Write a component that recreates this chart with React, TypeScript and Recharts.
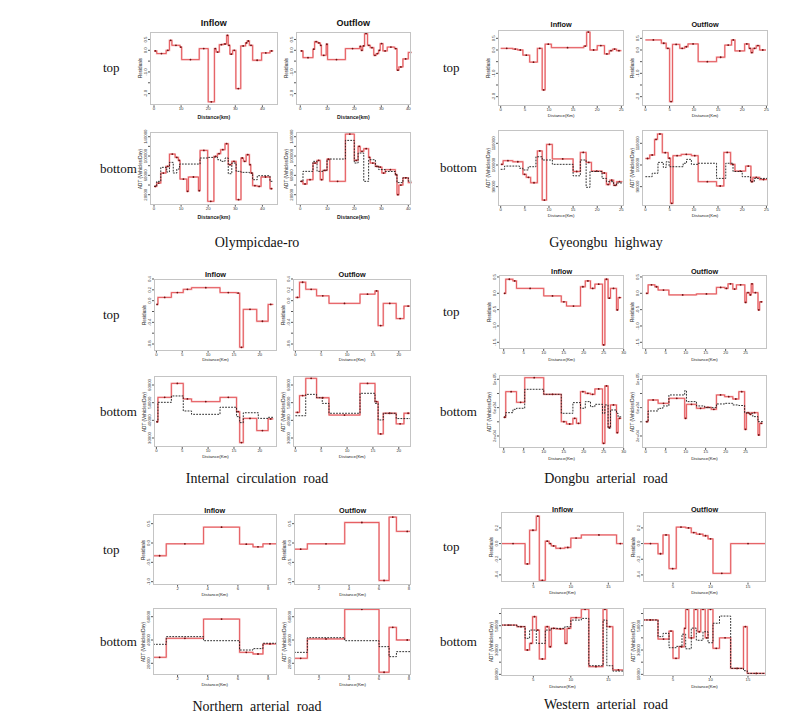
import React from "react";
import { ComposedChart, Line, XAxis, YAxis } from "recharts";

type Pt = [number, number];

// each series: [segment start km, value], last entry = end of last segment
const olyInRes: Pt[] = [[0,-0.03],[1,-0.15],[4.5,0],[5.7,0.46],[6.6,0.23],[9.6,0.15],[10.2,-0.43],[16.7,0.08],[20,-2.38],[22.3,0.08],[22.9,-0.08],[24.1,0.26],[25.6,0.29],[26.8,0.69],[27.4,0.23],[28,-0.18],[29,0],[30.2,-1.77],[32,0.2],[33.8,0.34],[34.4,0.43],[35.2,0.23],[36.4,-0.46],[39.7,-0.12],[42.8,-0.03],[44,-0.03]];
const olyOutRes: Pt[] = [[0,-0.03],[1,-0.34],[4.7,0.05],[5.3,0.4],[6.4,0.34],[7.4,0.23],[7.8,-0.23],[9.6,0.28],[10.1,-0.43],[16.7,0.08],[22,0.18],[22.5,0],[23.1,0.2],[23.8,0.77],[24.9,0.23],[25.9,0.12],[27.2,-0.23],[28.1,-0.15],[29,0],[29.6,0.31],[30.6,-0.03],[32.2,0.15],[34.9,0.08],[35.8,-0.92],[36.5,-0.77],[38,-0.4],[40,-0.1],[42,0.1],[44,0.1]];
const olyInObs: Pt[] = [[0,37200],[1,47600],[2.5,76600],[4.7,66900],[5.7,86900],[7.1,64800],[8.4,73100],[9.4,83400],[17,95900],[19.8,97200],[22.1,97900],[23.4,92400],[24.6,89000],[26.2,95900],[27.4,63400],[28.7,85500],[30.3,68300],[32.1,66200],[35.2,64800],[36.4,51000],[38.1,59300],[42.8,47600],[43.8,47600]];
const olyInPred: Pt[] = [[0,37200],[1,44100],[2.5,64800],[4.4,78600],[5.7,104100],[7.8,97200],[9,91000],[9.6,52400],[12.1,26900],[12.7,56600],[16.4,28300],[17,111700],[19.8,6200],[22.1,99300],[23.4,104800],[24.6,113100],[26.2,125500],[27.4,82100],[28.7,89000],[30.3,9700],[32.1,95900],[33,89000],[34,102800],[35.2,82100],[35.7,64800],[36.4,38600],[38.1,37200],[39.5,56600],[42.8,32400],[43.8,32400]];
const olyOutObs: Pt[] = [[0,47600],[1,68300],[4.7,89000],[6.2,68300],[8.4,70300],[9.9,92400],[10.9,93800],[16.7,132400],[20,85500],[21.4,106200],[23.5,47600],[25.3,92400],[27.8,78600],[29,72000],[31.5,68000],[35.2,62000],[35.8,45000],[38,55000],[40,48000],[42,52000],[44,52000]];
const olyOutPred: Pt[] = [[0,47600],[1,42100],[2.5,51000],[4.7,85500],[6.2,91000],[7.4,51000],[8.4,70300],[9.9,93800],[10.9,47600],[16.7,145500],[20,91000],[21.4,120000],[22.2,109700],[23.5,115200],[25.3,97200],[25.9,85500],[27.8,78600],[29,77200],[30.2,64800],[31.5,71700],[35.2,61400],[35.8,20000],[36.5,40000],[38,55000],[40,45000],[42,50000],[44,50000]];

const gyeInRes: Pt[] = [[0,0.07],[2.5,0.04],[3.5,0],[4.6,-0.22],[6,-0.52],[7.6,0.07],[8.6,-1.71],[9.2,0.25],[10.5,0.1],[17.2,0.17],[17.8,0.77],[18.5,0],[20,0.19],[21.5,-0.17],[22.5,-0.03],[23.2,0.04],[24,-0.03],[25,-0.03]];
const gyeOutRes: Pt[] = [[0,0.43],[3.3,0.29],[4.3,0.07],[5,-2.21],[5.6,0.24],[7.1,0.07],[8.1,0.14],[8.8,0.26],[10.9,-0.5],[14.7,-0.31],[16.4,0.21],[17.8,0.43],[18.5,-0.04],[20.5,0.26],[21.4,0.07],[21.8,-0.11],[22.2,0.07],[22.9,0.19],[23.6,0],[24.9,0]];
const gyeInObs: Pt[] = [[0,98000],[0.8,99500],[3.9,98500],[4.6,97700],[5.7,99200],[7.3,103800],[8.6,102300],[10.7,100300],[15,95000],[16.5,102300],[17.7,89700],[18.5,97000],[21,93800],[21.9,92300],[23.4,90600],[24,91700],[25.2,91700]];
const gyeInPred: Pt[] = [[0,100300],[0.5,102000],[2.5,101500],[4.6,95700],[5.3,94300],[6.2,91800],[7.6,106500],[8.6,83800],[9.5,109500],[10.7,102800],[15,97000],[16.5,105800],[17.7,101200],[18.8,97200],[21,96300],[21.9,91000],[22.6,93000],[23.4,90600],[24,92300],[25.2,92300]];
const gyeOutObs: Pt[] = [[0,94600],[1.4,96200],[2.6,101200],[3.7,98900],[4.3,101500],[4.9,99200],[7.8,100800],[8.5,102600],[9.5,100300],[10.9,100800],[14.7,93800],[16.6,100800],[18.1,97000],[20,94600],[21.7,92300],[22.5,93800],[25.2,93800]];
const gyeOutPred: Pt[] = [[0,103000],[0.9,104600],[1.9,111800],[2.5,114300],[3.5,105700],[4.7,103100],[5.2,82300],[5.7,104300],[7.4,104900],[9.5,104300],[10.9,92300],[14.7,90300],[16.2,105800],[17.6,100300],[18.5,97200],[20.7,99500],[21.8,92300],[22.2,94300],[23.6,93300],[25.2,93300]];

const intInRes: Pt[] = [[0,-0.07],[0.3,0.06],[2.9,0.15],[5.2,0.21],[6.8,0.24],[12.3,0.15],[15.5,0.14],[16.1,-0.86],[16.8,-0.16],[19.4,-0.38],[21.6,-0.07],[22.6,-0.07]];
const intOutRes: Pt[] = [[0,0.06],[0.8,0.34],[2,0.21],[4.1,0.09],[6.5,-0.05],[12.5,0.12],[15.4,0.18],[16,-0.46],[17,-0.05],[19.5,-0.33],[21,-0.1],[22.6,-0.1]];
const intInObs: Pt[] = [[0,39200],[0.3,50200],[2.9,53800],[5.2,45300],[6.8,43400],[12.3,47400],[15.5,42100],[16.1,38700],[16.8,44300],[19.7,41100],[21.6,41700],[22.6,41700]];
const intInPred: Pt[] = [[0,39200],[0.3,53000],[2.9,60900],[5.2,52100],[6.8,50600],[12.3,53000],[15.5,44900],[16.1,27400],[16.8,41100],[19.4,34200],[21.6,40800],[22.6,40800]];
const intOutObs: Pt[] = [[0,42600],[2,54700],[4.1,52800],[5.2,49600],[6.5,44000],[12.5,55300],[15.4,49600],[16,40200],[17,44000],[19.5,41000],[22.6,41000]];
const intOutPred: Pt[] = [[0,44500],[0.8,54000],[2,63800],[4.1,52800],[6.5,43000],[12.5,60900],[15.4,50600],[16,32300],[17,44000],[19.5,38000],[21,44000],[22.6,44000]];

const donInRes: Pt[] = [[0,0],[0.5,0.43],[2.3,0.38],[3.2,0.15],[10,-0.08],[14.4,-0.26],[15.7,-0.39],[19.2,0.2],[20.4,0.38],[21.7,0.15],[22.8,0.28],[24.7,-1.58],[25.3,0.43],[26.1,-0.15],[26.7,0.15],[28.2,-0.51],[28.6,-0.13],[29.4,-0.13]];
const donOutRes: Pt[] = [[0,0],[0.6,0.26],[2.3,0.2],[3.1,0.1],[5.8,-0.05],[12.7,-0.02],[17.7,0.18],[19.8,0.15],[20.6,0.29],[21.8,0.13],[22.7,0.26],[24.8,-0.28],[25.2,0.02],[26,-0.05],[26.4,0.29],[26.8,0.02],[28.1,-0.51],[28.5,-0.26],[29.3,-0.26]];
const donInObs: Pt[] = [[0,46400],[0.5,52900],[2.3,57600],[3.2,59100],[5.25,85900],[10,78800],[14.4,52000],[17.3,67100],[19.2,59100],[20.4,68500],[21.7,61400],[22.8,64700],[24.7,52000],[25.3,63800],[26.1,30800],[26.7,56700],[28.2,52000],[28.6,47000],[29.4,47000]];
const donInPred: Pt[] = [[0,46400],[0.5,82600],[3.2,67500],[5.25,102300],[10,78800],[14.4,40200],[15.7,36900],[17.3,44900],[18.2,37800],[19.2,82600],[20.4,80200],[21.7,78800],[22.8,86400],[24.7,9600],[25.3,90600],[26.1,32200],[26.7,63800],[28.2,24700],[28.6,44900],[29.4,44900]];
const donOutObs: Pt[] = [[0,40200],[0.6,55300],[3.1,59000],[4.3,62400],[5.8,77900],[9.75,84000],[10.2,68500],[12.7,62400],[14.75,60000],[17.7,65200],[19.75,66100],[21.8,63800],[23.3,63000],[24.75,52900],[25.2,52000],[26.8,47300],[28.1,40200],[29.3,40200]];
const donOutPred: Pt[] = [[0,40200],[0.6,70800],[3.1,66100],[5.8,73200],[9.75,44900],[10.2,64700],[12.7,59100],[14.75,60500],[16.4,57600],[17.7,77900],[19.75,75500],[21.8,72200],[23.3,82600],[24.75,29400],[25.2,52900],[26,50600],[26.4,52900],[28.1,21400],[28.5,37800],[29.3,37800]];

const norInRes: Pt[] = [[0.37,-0.33],[1.25,-0.02],[3.72,0.41],[6.11,-0.03],[7,-0.1],[7.66,-0.02],[8.59,-0.02]];
const norOutRes: Pt[] = [[0.33,-0.16],[1.22,-0.02],[3.71,0.53],[6,-0.97],[6.67,0.67],[7.16,0.3],[8.6,0.3]];
const norInObs: Pt[] = [[0.37,36300],[1.25,42900],[3.72,39400],[6.11,31400],[7,32600],[7.66,37200],[8.59,37200]];
const norInPred: Pt[] = [[0.37,25150],[1.25,41450],[3.72,58000],[6.11,29400],[7,28000],[7.66,36600],[8.59,36600]];
const norOutObs: Pt[] = [[0.33,29400],[1.22,42000],[3.71,39400],[6,34300],[6.67,25700],[7.16,30000],[8.6,30000]];
const norOutPred: Pt[] = [[0.33,24300],[1.22,40900],[3.71,66300],[6,12300],[6.67,50900],[7.16,40000],[8.6,40000]];

const wesInRes: Pt[] = [[0.69,0],[3.9,-0.26],[4.5,0.17],[5.4,0.35],[5.8,-0.47],[6.6,0.03],[7.1,0],[7.4,-0.03],[8,-0.06],[9.2,-0.05],[10,0.07],[11.4,0.11],[16.1,0],[17.09,0]];
const wesOutRes: Pt[] = [[1,0],[3,-0.13],[3.67,0.11],[4.47,-0.32],[5.44,0.21],[6.69,0.2],[7.44,0.14],[8.11,0.12],[9,0.1],[9.67,0.06],[10.33,-0.38],[12.69,0],[17.32,0]];
const wesInObs: Pt[] = [[0.69,50500],[2.8,49200],[3.9,39600],[4.5,46400],[5.4,35500],[6.6,46400],[7.4,47800],[9.2,49200],[10,54600],[11.4,56000],[12.4,17100],[14.3,54600],[14.8,17100],[15.6,12700],[17.09,12700]];
const wesInPred: Pt[] = [[0.69,50500],[2.8,49200],[3.9,30000],[4.5,35500],[4.9,57400],[5.4,46400],[5.8,22600],[6.6,49200],[7.1,32700],[7.4,47800],[8,47300],[9.2,35500],[9.5,47800],[10,56600],[11.4,63500],[12.4,16300],[14.3,63500],[14.8,49200],[15.6,13600],[17.09,13600]];
const wesOutObs: Pt[] = [[1,54700],[3,41000],[3.67,43700],[4.47,31900],[5.44,33000],[6.2,43000],[6.69,31000],[7.44,48000],[8.11,38000],[9,45000],[9.67,36000],[10.33,52000],[11.2,57900],[12.69,14900],[14.4,13000],[14.9,10800],[17.32,10800]];
const wesOutPred: Pt[] = [[1,54700],[3,39000],[4.47,45600],[5,23200],[5.8,32700],[6.5,47800],[6.69,63500],[7.1,40000],[7.8,63500],[8.3,45000],[8.7,63500],[9.3,40000],[9.67,63500],[10.33,31400],[11.2,40000],[12.69,14900],[14.4,49200],[14.9,10800],[17.32,10800]];

const RED = "#e24a4e";
const PINK = "#f4b4b6";
const DOT = "#6e1111";
const SANS = "'Liberation Sans', Arial, sans-serif";
const SERIF = "'Liberation Serif', 'DejaVu Serif', serif";
const YW = 16;
const XH = 14;
const PAD = 8; // room around the plot for labels that stick out
const TICK_FS = 4.3;

const fmt1 = (v: number) => v.toFixed(1);
const fmtInt = (v: number) => String(v);
const fmtExp = (v: number) => {
  const [m, e] = v.toExponential(0).split("e");
  const sign = e[0] === "-" ? "-" : "+";
  return `${m}e${sign}${e.replace(/[+-]/, "").padStart(2, "0")}`;
};

const toLine = (pts: Pt[]) => pts.map(([x, y]) => ({ x, y }));
const toDots = (pts: Pt[]) =>
  pts.slice(0, -1).map(([x, y], i) => ({ x: (x + pts[i + 1][0]) / 2, y }));

type PanelDef = {
  box: [number, number, number, number];
  xd: [number, number];
  xt: number[];
  yd: [number, number];
  yt: number[];
  ys: number[];
  yf: (v: number) => string;
  yTitle: string;
  xTitle: string;
  bold?: boolean;
  xTitleGap: number;
  red: Pt[];
  black?: Pt[];
};

function Panel(p: PanelDef) {
  const [l, t, r, b] = p.box;
  const w = r - l + YW + 2 * PAD;
  const h = b - t + XH + 2 * PAD;
  const yTick = (props: any) => {
    const { x, y, payload } = props;
    if (!p.ys.some((v) => Math.abs(v - payload.value) < 1e-9)) return <g />;
    return (
      <text x={x} y={y} transform={`rotate(-90 ${x} ${y})`} textAnchor="middle" fontSize={TICK_FS} fill="#333">
        {p.yf(payload.value)}
      </text>
    );
  };
  const line = toLine(p.red);
  return (
    <>
      <div style={{ position: "absolute", left: l - YW - PAD, top: t - PAD, width: w, height: h, fontFamily: SANS }}>
        <ComposedChart width={w} height={h} margin={{ top: PAD, right: PAD, bottom: PAD, left: PAD }}>
          <XAxis type="number" dataKey="x" domain={p.xd} ticks={p.xt} allowDataOverflow interval={0}
            height={XH} axisLine={false} tickSize={2} tickMargin={0} tickLine={{ stroke: "#555" }}
            tick={{ fontSize: TICK_FS, fill: "#333" }} />
          <YAxis type="number" dataKey="y" domain={p.yd} ticks={p.yt} allowDataOverflow interval={0}
            width={YW} axisLine={false} tickSize={2} tickMargin={1} tickLine={{ stroke: "#555" }} tick={yTick} />
          <Line data={line} dataKey="y" type="stepAfter" stroke={PINK} strokeWidth={1.8}
            dot={false} activeDot={false} isAnimationActive={false} />
          <Line data={line} dataKey="y" type="stepAfter" stroke={RED} strokeWidth={0.8}
            dot={false} activeDot={false} isAnimationActive={false} />
          <Line data={toDots(p.red)} dataKey="y" stroke="none" dot={{ r: 0.9, fill: DOT, stroke: "none" }}
            activeDot={false} isAnimationActive={false} />
          {p.black && (
            <Line data={toLine(p.black)} dataKey="y" type="stepAfter" stroke="#1a1a1a" strokeWidth={0.9}
              strokeDasharray="1.8 1.2" dot={false} activeDot={false} isAnimationActive={false} />
          )}
        </ComposedChart>
      </div>
      <div style={{ position: "absolute", left: l, top: t, width: r - l, height: b - t, border: "1px solid #c4c4c4", boxSizing: "border-box", pointerEvents: "none" }} />
      <div style={{ position: "absolute", left: l - 10, top: (t + b) / 2, transform: "translate(-50%,-50%) rotate(-90deg)", fontFamily: SANS, fontSize: 4.6, color: "#222", whiteSpace: "nowrap" }}>
        {p.yTitle}
      </div>
      <div style={{ position: "absolute", left: (l + r) / 2, top: b + p.xTitleGap, transform: "translate(-50%,-50%)", fontFamily: SANS, fontSize: p.bold ? 5.2 : 4.4, fontWeight: p.bold ? 700 : 400, color: "#222", whiteSpace: "nowrap" }}>
        {p.xTitle}
      </div>
    </>
  );
}

type GroupDef = {
  name: string;
  inX: [number, number]; outX: [number, number];
  topY: [number, number]; botY: [number, number];
  inXd: [number, number]; outXd: [number, number];
  inXt: number[]; outXt: number[];
  resYd: [number, number]; resYt: number[]; resYs: number[];
  adtYd: [number, number]; adtYt: number[]; adtYs: number[]; adtF: (v: number) => string;
  xTitle: string; bold?: boolean; xGap: number; titleGap: number; titleSize: number;
  series: Pt[][]; // inRes, outRes, inObs, inPred, outObs, outPred
  labelX: number; captionX: number; captionY: number;
};

const groups: GroupDef[] = [
  {
    name: "Olympicdae-ro", inX: [150, 277.7], outX: [295.7, 411], topY: [31.7, 105], botY: [132.3, 205],
    inXd: [-1.48, 45.64], outXd: [-1.59, 41.1], inXt: [0, 10, 20, 30, 40], outXt: [0, 10, 20, 30, 40],
    resYd: [-2.54, 0.845], resYt: [-2, -1.5, -1, -0.5, 0, 0.5], resYs: [-2, -1, 0, 0.5],
    adtYd: [-690, 149750], adtYt: [20000, 40000, 60000, 80000, 100000, 120000, 140000], adtYs: [20000, 60000, 100000, 140000], adtF: fmtInt,
    xTitle: "Distance(km)", bold: true, xGap: 12, titleGap: 9, titleSize: 9,
    series: [olyInRes, olyOutRes, olyInObs, olyInPred, olyOutObs, olyOutPred],
    labelX: 100, captionX: 257, captionY: 243,
  },
  {
    name: "Gyeongbu  highway", inX: [498.3, 624], outX: [642.3, 767.7], topY: [30, 106], botY: [130, 206],
    inXd: [-0.56, 25.48], outXd: [-0.7, 25.2], inXt: [0, 5, 10, 15, 20, 25], outXt: [0, 5, 10, 15, 20, 25],
    resYd: [-2.4, 0.857], resYt: [-2, -1.5, -1, -0.5, 0, 0.5], resYs: [-2, -1, 0, 0.5],
    adtYd: [81070, 116150], adtYt: [90000, 100000, 110000], adtYs: [90000, 100000, 110000], adtF: fmtInt,
    xTitle: "Distance(Km)", xGap: 9, titleGap: 6, titleSize: 7.3,
    series: [gyeInRes, gyeOutRes, gyeInObs, gyeInPred, gyeOutObs, gyeOutPred],
    labelX: 440, captionX: 606, captionY: 243,
  },
  {
    name: "Internal  circulation  road", inX: [154.3, 276.7], outX: [293.3, 411], topY: [279, 350.7], botY: [376, 447],
    inXd: [-0.46, 23.2], outXd: [-0.46, 22.3], inXt: [0, 5, 10, 15, 20], outXt: [0, 5, 10, 15, 20],
    resYd: [-0.923, 0.4], resYt: [-0.8, -0.6, -0.4, -0.2, 0, 0.2, 0.4], resYs: [-0.8, -0.4, 0, 0.2, 0.4],
    adtYd: [24900, 65100], adtYt: [30000, 40000, 50000, 60000], adtYs: [30000, 40000, 50000, 60000], adtF: fmtInt,
    xTitle: "Distance(Km)", xGap: 8.5, titleGap: 5, titleSize: 7.3,
    series: [intInRes, intOutRes, intInObs, intInPred, intOutObs, intOutPred],
    labelX: 100, captionX: 257, captionY: 479,
  },
  {
    name: "Dongbu  arterial  road", inX: [499.3, 624], outX: [642.3, 766.7], topY: [275, 349], botY: [375, 448],
    inXd: [-1.18, 30], outXd: [-0.93, 30.2], inXt: [0, 5, 10, 15, 20, 25, 30], outXt: [0, 5, 10, 15, 20, 25],
    resYd: [-1.705, 0.56], resYt: [-1.5, -1, -0.5, 0, 0.5], resYs: [-1.5, -1, -0.5, 0, 0.5],
    adtYd: [3030, 106070], adtYt: [20000, 40000, 60000, 80000, 100000], adtYs: [20000, 60000, 100000], adtF: fmtExp,
    xTitle: "Distance(Km)", xGap: 10, titleGap: 4, titleSize: 7.3,
    series: [donInRes, donOutRes, donInObs, donInPred, donOutObs, donOutPred],
    labelX: 440, captionX: 606, captionY: 479,
  },
  {
    name: "Northern  arterial  road", inX: [152.7, 276.7], outX: [294.3, 411], topY: [514.3, 585], botY: [608, 675],
    inXd: [0.37, 8.59], outXd: [0.33, 8.11], inXt: [2, 4, 6, 8], outXt: [2, 4, 6, 8],
    resYd: [-1.078, 0.75], resYt: [-1, -0.5, 0, 0.5], resYs: [-1, -0.5, 0, 0.5],
    adtYd: [9960, 67470], adtYt: [20000, 40000, 60000], adtYs: [20000, 40000, 60000], adtF: fmtInt,
    xTitle: "Distance(Km)", xGap: 8.5, titleGap: 4, titleSize: 7.3,
    series: [norInRes, norOutRes, norInObs, norInPred, norOutObs, norOutPred],
    labelX: 100, captionX: 257, captionY: 707,
  },
  {
    name: "Western  arterial  road", inX: [501, 624], outX: [643.3, 765.7], topY: [511.7, 582.3], botY: [608, 675.7],
    inXd: [0.69, 17.09], outXd: [1, 17.32], inXt: [5, 10, 15], outXt: [5, 10, 15],
    resYd: [-0.498, 0.403], resYt: [-0.4, -0.2, 0, 0.2], resYs: [-0.4, -0.2, 0, 0.2],
    adtYd: [8900, 64540], adtYt: [10000, 20000, 30000, 40000, 50000, 60000], adtYs: [10000, 30000, 50000], adtF: fmtInt,
    xTitle: "Distance(Km)", xGap: 10, titleGap: 3, titleSize: 7.3,
    series: [wesInRes, wesOutRes, wesInObs, wesInPred, wesOutObs, wesOutPred],
    labelX: 440, captionX: 606, captionY: 705,
  },
];

function Group({ g }: { g: GroupDef }) {
  const [inRes, outRes, inObs, inPred, outObs, outPred] = g.series;
  const common = { xTitle: g.xTitle, bold: g.bold, xTitleGap: g.xGap };
  const res = { yd: g.resYd, yt: g.resYt, ys: g.resYs, yf: fmt1, yTitle: "Residuals" };
  const adt = { yd: g.adtYd, yt: g.adtYt, ys: g.adtYs, yf: g.adtF, yTitle: "ADT (Vehicles/Day)" };
  const titleStyle = (x0: number, x1: number): React.CSSProperties => ({
    position: "absolute", left: (x0 + x1) / 2, top: g.topY[0] - g.titleGap, transform: "translate(-50%,-50%)",
    fontFamily: SANS, fontWeight: 700, fontSize: g.titleSize, color: "#111", whiteSpace: "nowrap",
  });
  const sideStyle = (y: number, dx: number): React.CSSProperties => ({
    position: "absolute", left: g.labelX + dx, top: y, transform: "translateY(-50%)",
    fontFamily: SERIF, fontSize: 13, color: "#111", whiteSpace: "nowrap",
  });
  return (
    <>
      <Panel box={[g.inX[0], g.topY[0], g.inX[1], g.topY[1]]} xd={g.inXd} xt={g.inXt} {...res} {...common} red={inRes} />
      <Panel box={[g.outX[0], g.topY[0], g.outX[1], g.topY[1]]} xd={g.outXd} xt={g.outXt} {...res} {...common} red={outRes} />
      <Panel box={[g.inX[0], g.botY[0], g.inX[1], g.botY[1]]} xd={g.inXd} xt={g.inXt} {...adt} {...common} red={inPred} black={inObs} />
      <Panel box={[g.outX[0], g.botY[0], g.outX[1], g.botY[1]]} xd={g.outXd} xt={g.outXt} {...adt} {...common} red={outPred} black={outObs} />
      <div style={titleStyle(g.inX[0], g.inX[1])}>Inflow</div>
      <div style={titleStyle(g.outX[0], g.outX[1])}>Outflow</div>
      <div style={sideStyle((g.topY[0] + g.topY[1]) / 2, 3)}>top</div>
      <div style={sideStyle((g.botY[0] + g.botY[1]) / 2, 0)}>bottom</div>
      <div style={{ position: "absolute", left: g.captionX, top: g.captionY, transform: "translate(-50%,-50%)", fontFamily: SERIF, fontSize: 14, color: "#111", whiteSpace: "pre" }}>
        {g.name}
      </div>
    </>
  );
}

export default function App() {
  return (
    <div style={{ position: "absolute", left: 0, top: 0, width: 800, height: 724, background: "#fff", overflow: "hidden" }}>
      {groups.map((g) => (
        <Group key={g.name} g={g} />
      ))}
    </div>
  );
}
